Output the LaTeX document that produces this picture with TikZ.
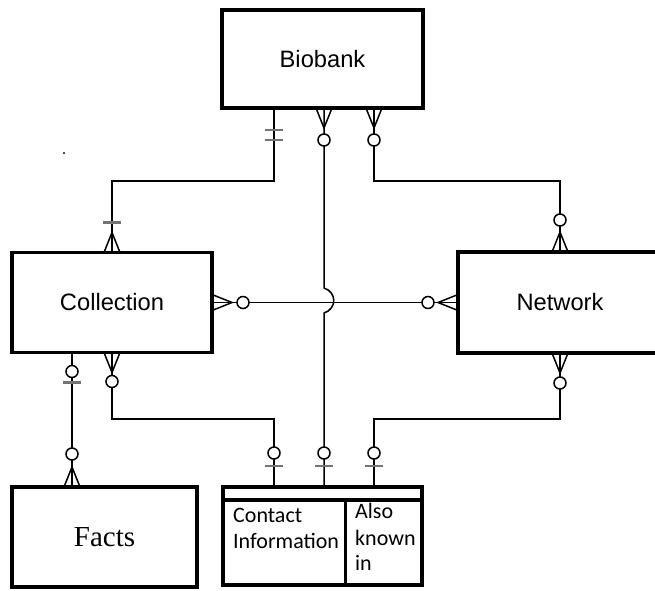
\documentclass[tikz,border=0pt]{standalone}
\usepackage{fontspec}
\setmainfont{Liberation Sans}
\newfontfamily\factsfont{Liberation Serif}
\newfontfamily\attrfont{Carlito}
\usetikzlibrary{calc}
\begin{document}
\begin{tikzpicture}[x=1pt,y=-1pt,
  entity/.style={draw, line width=3.5pt, rectangle, outer sep=0pt, inner sep=0pt,
    font=\fontsize{23.7}{28}\selectfont},
  attr/.style={anchor=base west, inner sep=0pt, font=\attrfont\fontsize{22}{26}\selectfont},
  link/.style={line width=1.5pt},
  pics/crow/.style={code={\draw[link] (0pt,8pt) -- (20pt,0pt) -- (0pt,-8pt);}},
  pics/ring/.style={code={\draw[link, fill=white] (#1pt,0pt) circle[radius=6pt];}},
  pics/bar/.style={code={\draw[line width=2.5pt, black!55] (#1pt,-9pt) -- (#1pt,9pt);}},
]
\clip (0,0) rectangle (655,590);

% entities
\node[entity, minimum width=201pt, minimum height=98pt] (bio) at (322.5,59) {Biobank};
\node[entity, minimum width=200pt, minimum height=100pt] (col) at (112,302.5) {Collection};
\node[entity, minimum width=204pt, minimum height=101pt] (net) at (560,302.5) {Network};
\node[entity, minimum width=185pt, minimum height=100pt, font=\factsfont\fontsize{29}{34}\selectfont] (facts) at (104.5,537) {Facts};
\node[entity, minimum width=199pt, minimum height=98pt] (ci) at (322.5,536) {};
\draw[line width=3.5pt] (ci.west |- 0,500) -- (ci.east |- 0,500);
\draw[line width=3pt] (345,500) -- (345,0 |- ci.south);

% attribute texts
\node[attr] (ct1) at (233,522) {Contact};
\node[attr] (ct2) at (233,548) {Information};
\node[attr] (ak1) at (355,518) {Also};
\node[attr] (ak2) at (355,545) {known};
\node[attr] (ak3) at (355,570) {in};

% connector end points
\coordinate (b1) at ([xshift=-48.5pt]bio.south);
\coordinate (b2) at ([xshift=1.5pt]bio.south);
\coordinate (b3) at ([xshift=51.5pt]bio.south);
\coordinate (c1) at (col.north);
\coordinate (c2) at (col.east);
\coordinate (c3) at ([xshift=-40pt]col.south);
\coordinate (c4) at (col.south);
\coordinate (n1) at (net.north);
\coordinate (n2) at (net.west);
\coordinate (n3) at (net.south);
\coordinate (f1) at ([xshift=-32.5pt]facts.north);
\coordinate (i1) at ([xshift=-48.5pt]ci.north);
\coordinate (i2) at ([xshift=1.5pt]ci.north);
\coordinate (i3) at ([xshift=51.5pt]ci.north);

% relationships
\draw[link] (b1) -- ++(0,73) -| (c1);
\draw[link] (b3) -- ++(0,73) -| (n1);
\draw[link] (c2) -- (n2);
\draw[link] (b2) -- (324,288) .. controls (337,292) and (337,309) .. (324,313) -- (i2);
\draw[link] (c3) -- (f1);
\draw[link] (c4) -- ++(0,66.5) -| (i1);
\draw[link] (n3) -- ++(0,66) -| (i3);

% cardinality marks
\pic[rotate=-90] at (b1) {bar=22};
\pic[rotate=-90] at (b1) {bar=32};
\pic[rotate=90] at (c1) {crow};
\pic[rotate=90] at (c1) {bar=30};

\pic[rotate=-90] at (b2) {crow};
\pic[rotate=-90] at (b2) {ring=32};
\pic[rotate=90] at (i2) {bar=21};
\pic[rotate=90] at (i2) {ring=34};

\pic[rotate=-90] at (b3) {crow};
\pic[rotate=-90] at (b3) {ring=32};
\pic[rotate=90] at (n1) {crow};
\pic[rotate=90] at (n1) {ring=32};

\pic at (c2) {crow};
\pic at (c2) {ring=31};
\pic[rotate=180] at (n2) {crow};
\pic[rotate=180] at (n2) {ring=30};

\pic[rotate=-90] at (c3) {bar=30};
\pic[rotate=-90] at (c3) {ring=19};
\pic[rotate=90] at (f1) {crow};
\pic[rotate=90] at (f1) {ring=33};

\pic[rotate=-90] at (c4) {crow};
\pic[rotate=-90] at (c4) {ring=29};
\pic[rotate=90] at (i1) {bar=21};
\pic[rotate=90] at (i1) {ring=34};

\pic[rotate=-90] at (n3) {crow};
\pic[rotate=-90] at (n3) {ring=30};
\pic[rotate=90] at (i3) {bar=21};
\pic[rotate=90] at (i3) {ring=34};

% small stray mark
\fill[black!70] (63,152) rectangle (65,154);
\end{tikzpicture}
\end{document}
